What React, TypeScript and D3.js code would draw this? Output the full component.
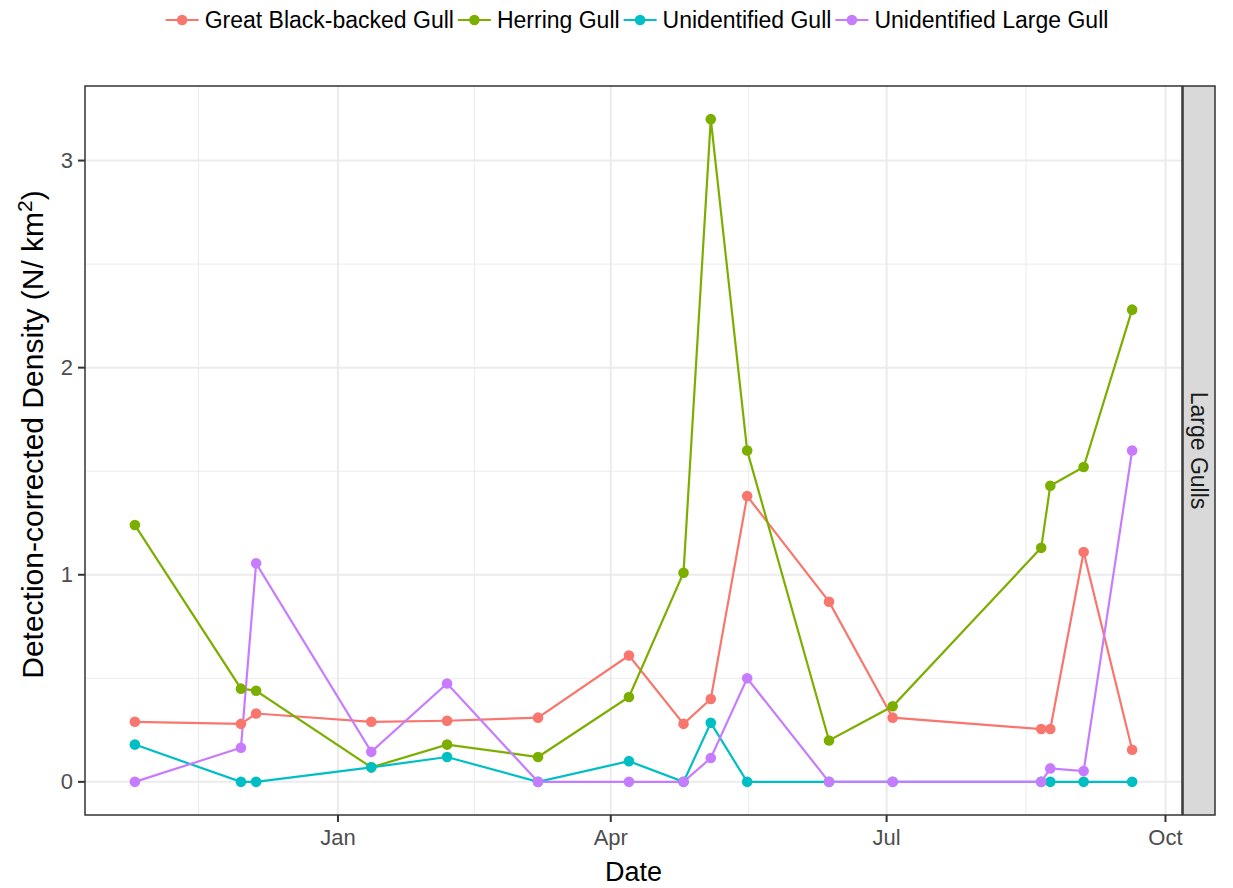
import React from "react";
import * as d3 from "d3";

const dates = [
  "2014-10-26", "2014-11-30", "2014-12-05", "2015-01-12", "2015-02-06", "2015-03-08",
  "2015-04-07", "2015-04-25", "2015-05-04", "2015-05-16", "2015-06-12", "2015-07-03",
  "2015-08-21", "2015-08-24", "2015-09-04", "2015-09-20",
];
const greatBlackBacked = [0.29, 0.28, 0.33, 0.29, 0.295, 0.31, 0.61, 0.28, 0.40, 1.38, 0.87, 0.31, 0.255, 0.255, 1.11, 0.155];
const herring = [1.24, 0.45, 0.44, 0.07, 0.18, 0.12, 0.41, 1.01, 3.2, 1.6, 0.2, 0.365, 1.13, 1.43, 1.52, 2.28];
const unidentifiedGull = [0.18, 0, 0, 0.07, 0.12, 0, 0.1, 0, 0.285, 0, 0, 0, 0, 0, 0, 0];
const unidentifiedLarge = [0, 0.165, 1.055, 0.145, 0.475, 0, 0, 0, 0.115, 0.5, 0, 0, 0, 0.065, 0.052, 1.6];

const seriesNames = ["Great Black-backed Gull", "Herring Gull", "Unidentified Gull", "Unidentified Large Gull"];
const seriesValues = [greatBlackBacked, herring, unidentifiedGull, unidentifiedLarge];
const colors = ["#F8766D", "#7CAE00", "#00BFC4", "#C77CFF"];
const xTickDates = ["2015-01-01", "2015-04-01", "2015-07-01", "2015-10-01"];
const xTickLabels = ["Jan", "Apr", "Jul", "Oct"];
const yTicks = [0, 1, 2, 3];
const stripLabel = "Large Gulls";

const FONT = '"Liberation Sans", Arial, sans-serif';
const W = 1233, H = 888;
const P = { left: 85, right: 1182, top: 86, bottom: 815 };
const STRIP = { left: 1183, right: 1215 };

function measure(text: string, size: number) {
  const c = document.createElement("canvas").getContext("2d");
  if (!c) return text.length * size * 0.5;
  c.font = `${size}px ${FONT}`;
  return c.measureText(text).width;
}

export default function App() {
  const parse = d3.utcParse("%Y-%m-%d");
  const xs = dates.map((d) => parse(d) as Date);
  const [x0, x1] = d3.extent(xs) as [Date, Date];
  const span = +x1 - +x0;
  const x = d3.scaleUtc()
    .domain([new Date(+x0 - span * 0.05), new Date(+x1 + span * 0.05)])
    .range([P.left, P.right]);
  const yMax = d3.max(seriesValues.flat()) as number;
  const y = d3.scaleLinear().domain([-yMax * 0.05, yMax * 1.05]).range([P.bottom, P.top]);

  const majorX = xTickDates.map((d) => x(parse(d) as Date));
  const ext = [x(parse("2014-10-01") as Date), ...majorX];
  const minorX: number[] = [];
  for (let i = 0; i < ext.length - 1; i++) minorX.push((ext[i] + ext[i + 1]) / 2);
  const minorXIn = minorX.filter((v) => v > P.left && v < P.right);
  const minorY = [0.5, 1.5, 2.5];

  const line = d3.line<number>()
    .x((_, i) => x(xs[i]))
    .y((v) => y(v));

  // legend layout
  const legendSize = 23;
  const keyW = 33, keyGap = 6, itemGap = 4;
  const widths = seriesNames.map((n) => measure(n, legendSize));
  const total = widths.reduce((a, b) => a + b, 0) + seriesNames.length * (keyW + keyGap) + (seriesNames.length - 1) * itemGap;
  let lx = 637 - total / 2;
  const legendItems = seriesNames.map((n, i) => {
    const item = { name: n, x: lx, color: colors[i] };
    lx += keyW + keyGap + widths[i] + itemGap;
    return item;
  });
  const legendY = 20;

  const midY = (P.top + P.bottom) / 2;

  return (
    <svg width={W} height={H} style={{ display: "block", position: "absolute", left: 0, top: 0, background: "#fff" }} fontFamily={FONT}>
      <rect x={0} y={0} width={W} height={H} fill="#fff" />
      {/* grid */}
      <g>
        {minorY.map((v) => (
          <line key={"my" + v} x1={P.left} x2={P.right} y1={y(v)} y2={y(v)} stroke="#EBEBEB" strokeWidth={1} />
        ))}
        {minorXIn.map((v, i) => (
          <line key={"mx" + i} x1={v} x2={v} y1={P.top} y2={P.bottom} stroke="#EBEBEB" strokeWidth={1} />
        ))}
        {yTicks.map((v) => (
          <line key={"gy" + v} x1={P.left} x2={P.right} y1={y(v)} y2={y(v)} stroke="#EBEBEB" strokeWidth={2} />
        ))}
        {majorX.map((v, i) => (
          <line key={"gx" + i} x1={v} x2={v} y1={P.top} y2={P.bottom} stroke="#EBEBEB" strokeWidth={2} />
        ))}
      </g>
      {/* lines */}
      <g>
        {seriesValues.map((vals, s) => (
          <path key={"l" + s} d={line(vals) || ""} fill="none" stroke={colors[s]} strokeWidth={2.2} />
        ))}
      </g>
      <g>
        {seriesValues.map((vals, s) =>
          vals.map((v, i) => <circle key={`p${s}-${i}`} cx={x(xs[i])} cy={y(v)} r={5.3} fill={colors[s]} />)
        )}
      </g>
      {/* panel border */}
      <rect x={P.left} y={P.top} width={P.right - P.left} height={P.bottom - P.top} fill="none" stroke="#333333" strokeWidth={1.5} />
      {/* strip */}
      <rect x={STRIP.left} y={P.top} width={STRIP.right - STRIP.left} height={P.bottom - P.top} fill="#D9D9D9" stroke="#333333" strokeWidth={1.5} />
      <text
        transform={`translate(${(STRIP.left + STRIP.right) / 2},${midY}) rotate(90)`}
        textAnchor="middle"
        dominantBaseline="central"
        fontSize={23}
        fill="#1A1A1A"
      >
        {stripLabel}
      </text>
      {/* x axis */}
      <g>
        {majorX.map((v, i) => (
          <g key={"xt" + i}>
            <line x1={v} x2={v} y1={P.bottom} y2={P.bottom + 7} stroke="#333333" strokeWidth={2} />
            <text x={v} y={P.bottom + 30} textAnchor="middle" fontSize={22} fill="#4D4D4D">
              {xTickLabels[i]}
            </text>
          </g>
        ))}
      </g>
      {/* y axis */}
      <g>
        {yTicks.map((v) => (
          <g key={"yt" + v}>
            <line x1={P.left - 7} x2={P.left} y1={y(v)} y2={y(v)} stroke="#333333" strokeWidth={2} />
            <text x={P.left - 12} y={y(v)} textAnchor="end" dominantBaseline="central" fontSize={22} fill="#4D4D4D">
              {v}
            </text>
          </g>
        ))}
      </g>
      {/* axis titles */}
      <text x={(P.left + P.right) / 2} y={881} textAnchor="middle" fontSize={27} fill="#000">
        Date
      </text>
      <text transform={`translate(43,${midY - 16}) rotate(-90)`} textAnchor="middle" fontSize={30} fill="#000">
        Detection-corrected Density (N/ km<tspan fontSize={21} dy={-11}>2</tspan><tspan dy={11}>)</tspan>
      </text>
      {/* legend */}
      <g>
        {legendItems.map((it, i) => (
          <g key={"lg" + i}>
            <line x1={it.x} x2={it.x + keyW} y1={legendY} y2={legendY} stroke={it.color} strokeWidth={2.2} />
            <circle cx={it.x + keyW / 2} cy={legendY} r={5.3} fill={it.color} />
            <text x={it.x + keyW + keyGap} y={legendY} dominantBaseline="central" fontSize={legendSize} fill="#000">
              {it.name}
            </text>
          </g>
        ))}
      </g>
    </svg>
  );
}
